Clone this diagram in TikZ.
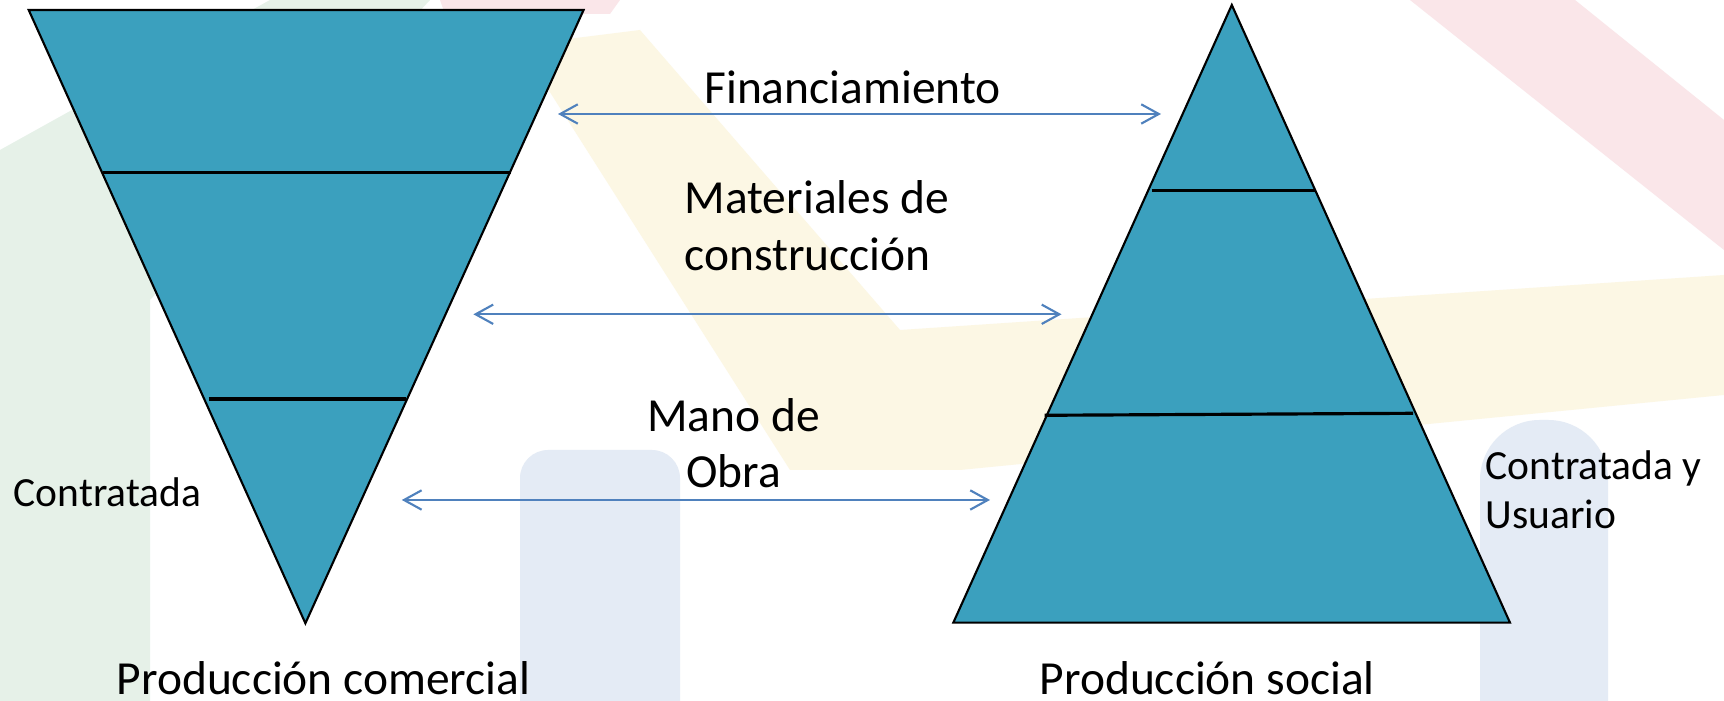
\documentclass[tikz,border=0pt]{standalone}
\usepackage{fontspec}
\setmainfont{Carlito}
\usetikzlibrary{arrows.meta}

\definecolor{capaazul}{HTML}{3BA0BE}
\definecolor{flechaazul}{HTML}{4F81BD}
\definecolor{fondoverde}{HTML}{E6F1E8}
\definecolor{fondorosa}{HTML}{FAE6E9}
\definecolor{fondoamarillo}{HTML}{FCF7E4}
\definecolor{fondoazul}{HTML}{E4EBF5}

\begin{document}
\begin{tikzpicture}[x=0.01cm,y=-0.01cm,
    capa/.style={fill=capaazul,draw=black,line width=0.6pt},
    corte/.style={draw=black,line width=0.9pt},
    flujo/.style={draw=flechaazul,line width=0.6pt,
        {Straight Barb[length=5pt,width=5.5pt]}-{Straight Barb[length=5pt,width=5.5pt]}},
    grande/.style={font=\fontsize{13.5}{16.2}\selectfont,inner sep=0pt},
    chica/.style={font=\fontsize{11.8}{14}\selectfont,inner sep=0pt}]

    \useasboundingbox (0,0) rectangle (1724,701);
    \fill[white] (0,0) rectangle (1724,701);

	% faint logo in the background
	\fill[fondoverde] (0,150) -- (270,0) -- (430,0) -- (150,300) -- (150,701) -- (0,701) -- cycle;
	\fill[fondorosa] (440,0) -- (620,0) -- (610,14) -- (445,14) -- cycle;
	\fill[fondorosa] (1410,0) -- (1575,0) -- (1724,120) -- (1724,250) -- cycle;
	\fill[fondoamarillo] (520,45) -- (640,30) -- (900,330) -- (1724,275)
	    -- (1724,395) -- (960,470) -- (790,470) -- cycle;
	\fill[fondoazul, rounded corners=8pt] (520,450) rectangle (680,780);
	\fill[fondoazul, rounded corners=17pt] (1480,420) rectangle (1608,780);

	% produccion comercial (upside down)
	\filldraw[capa] (28.7,10) -- (583.6,10) -- (305.4,623.3) -- cycle;
	\draw[corte] (102.6,172.3) -- (510.9,172.3);
	\draw[corte] (208.6,399) -- (405.7,399);

	% produccion social
	\filldraw[capa] (1231.8,5) -- (1510,622.7) -- (953.3,622.7) -- cycle;
	\draw[corte] (1151.8,190.7) -- (1314.5,190.7);
	\draw[corte] (1044.5,415.3) -- (1413,413.3);

	% arrow ends
	\coordinate (fin-izq) at (558,114);
	\coordinate (fin-der) at (1161,114);
	\coordinate (mat-izq) at (473.4,314.3);
	\coordinate (mat-der) at (1061.5,314.3);
	\coordinate (obra-izq) at (401.8,500);
	\coordinate (obra-der) at (990,500);

	\draw[flujo] (fin-izq) -- (fin-der);
	\draw[flujo] (mat-izq) -- (mat-der);
	\draw[flujo] (obra-izq) -- (obra-der);

	% labels (base = last line)
	\node[grande,anchor=base west] (financ) at (703.7,104) {Financiamiento};
	\node[grande,anchor=base west,align=left] (mater) at (684,270.7) {Materiales de\\construcción};
	\node[grande,anchor=base,align=center] (mano) at (733.5,488) {Mano de\\Obra};
	\node[chica,anchor=base west] (contrat) at (13,506.7) {Contratada};
	\node[chica,anchor=base west,align=left] (contrausu) at (1485,528.3) {Contratada y\\Usuario};
	\node[grande,anchor=base west] (prodcom) at (116,695) {Producción comercial};
	\node[grande,anchor=base west] (prodsoc) at (1039,695) {Producción social};

\end{tikzpicture}
\end{document}
